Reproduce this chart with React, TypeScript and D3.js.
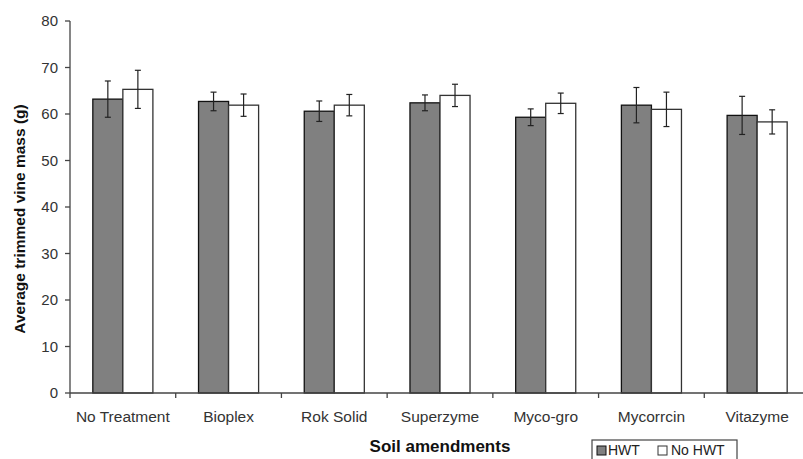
import React from "react";
import * as d3 from "d3";

const categories = ["No Treatment", "Bioplex", "Rok Solid", "Superzyme", "Myco-gro", "Mycorrcin", "Vitazyme"];
const seriesNames = ["HWT", "No HWT"];
const hwtValues = [63.2, 62.7, 60.6, 62.4, 59.3, 61.9, 59.7];
const hwtErrors = [3.9, 2.0, 2.2, 1.7, 1.8, 3.8, 4.1];
const noHwtValues = [65.3, 61.9, 61.9, 64.0, 62.3, 61.0, 58.3];
const noHwtErrors = [4.1, 2.4, 2.3, 2.4, 2.2, 3.7, 2.6];
const yTicks = [0, 10, 20, 30, 40, 50, 60, 70, 80];

const W = 803;
const H = 459;
const left = 70;
const right = 810;
const top = 21;
const bottom = 393;

export default function App() {
  const x = d3.scaleBand<string>().domain(categories).range([left, right]).paddingInner(0).paddingOuter(0);
  const inner = d3.scaleBand<string>().domain(seriesNames).range([0, x.bandwidth()]).paddingOuter(0.76).paddingInner(0);
  const y = d3.scaleLinear().domain([0, 80]).range([bottom, top]);
  const font = "'Liberation Sans', Arial, sans-serif";
  const series = [
    { name: "HWT", values: hwtValues, errors: hwtErrors, fill: "#808080", stroke: "#111" },
    { name: "No HWT", values: noHwtValues, errors: noHwtErrors, fill: "#ffffff", stroke: "#333" },
  ];
  const boundaries = d3.range(categories.length + 1).map((i) => left + i * x.step());
  return (
    <svg width={W} height={H} style={{ position: "absolute", left: 0, top: 0, background: "#fff" }} fontFamily={font}>
      {/* bars */}
      {series.map((s) =>
        categories.map((c, i) => {
          const bx = (x(c) as number) + (inner(s.name) as number);
          const bw = inner.bandwidth();
          return (
            <rect key={s.name + c} x={bx} y={y(s.values[i])} width={bw} height={bottom - y(s.values[i])}
              fill={s.fill} stroke={s.stroke} strokeWidth={1.3} />
          );
        })
      )}
      {/* error bars */}
      {series.map((s) =>
        categories.map((c, i) => {
          const cx = (x(c) as number) + (inner(s.name) as number) + inner.bandwidth() / 2;
          const y1 = y(s.values[i] + s.errors[i]);
          const y2 = y(s.values[i] - s.errors[i]);
          return (
            <g key={"e" + s.name + c} stroke="#222" strokeWidth={1.2}>
              <line x1={cx} x2={cx} y1={y1} y2={y2} />
              <line x1={cx - 3} x2={cx + 3} y1={y1} y2={y1} />
              <line x1={cx - 3} x2={cx + 3} y1={y2} y2={y2} />
            </g>
          );
        })
      )}
      {/* y axis */}
      <line x1={left} x2={left} y1={top} y2={bottom} stroke="#444" strokeWidth={1.3} />
      {yTicks.map((t) => (
        <g key={"yt" + t}>
          <line x1={left - 5} x2={left} y1={y(t)} y2={y(t)} stroke="#444" strokeWidth={1.3} />
          <text x={left - 12} y={y(t)} dy="0.35em" textAnchor="end" fontSize={15} fill="#333">{t}</text>
        </g>
      ))}
      {/* x axis */}
      <line x1={left} x2={right} y1={bottom} y2={bottom} stroke="#444" strokeWidth={1.3} />
      {boundaries.map((b, i) => (
        <line key={"xt" + i} x1={b} x2={b} y1={bottom} y2={bottom + 5} stroke="#444" strokeWidth={1.3} />
      ))}
      {categories.map((c) => (
        <text key={"xl" + c} x={(x(c) as number) + x.bandwidth() / 2} y={422} textAnchor="middle" fontSize={15.5} fill="#333">{c}</text>
      ))}
      {/* axis titles */}
      <text x={(left + right) / 2} y={452} textAnchor="middle" fontSize={17} fontWeight="bold" fill="#111">Soil amendments</text>
      <text transform={`translate(25, ${(top + bottom) / 2 + 12}) rotate(-90)`} textAnchor="middle" fontSize={15.5} fontWeight="bold" fill="#111">Average trimmed vine mass (g)</text>
      {/* legend */}
      <rect x={592} y={440} width={145} height={24} fill="#fff" stroke="#444" strokeWidth={1.2} />
      <rect x={597} y={446} width={9} height={9} fill="#808080" stroke="#111" strokeWidth={1} />
      <text x={608} y={455} fontSize={14} fill="#222">{seriesNames[0]}</text>
      <rect x={658} y={446} width={9} height={9} fill="#fff" stroke="#333" strokeWidth={1} />
      <text x={671} y={455} fontSize={14} fill="#222">{seriesNames[1]}</text>
    </svg>
  );
}
